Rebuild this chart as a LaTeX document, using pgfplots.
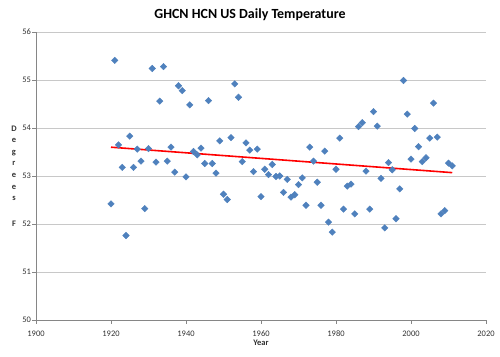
\documentclass[border=0pt]{standalone}
\usepackage{fontspec}
\setmainfont{Carlito}
\usepackage{pgfplots}
\pgfplotsset{compat=1.18}
\definecolor{ptblue}{HTML}{4F81BD}
\definecolor{gridgray}{RGB}{200,200,200}
\definecolor{axgray}{RGB}{134,134,134}
\definecolor{txt}{RGB}{50,50,50}
\pgfplotstableread{
year temp
1920 52.42
1921 55.41
1922 53.65
1923 53.18
1924 51.76
1925 53.83
1926 53.18
1927 53.56
1928 53.31
1929 52.32
1930 53.57
1931 55.24
1932 53.29
1933 54.56
1934 55.28
1935 53.31
1936 53.60
1937 53.08
1938 54.88
1939 54.78
1940 52.98
1941 54.48
1942 53.51
1943 53.44
1944 53.58
1945 53.26
1946 54.57
1947 53.26
1948 53.06
1949 53.73
1950 52.62
1951 52.51
1952 53.80
1953 54.92
1954 54.64
1955 53.30
1956 53.69
1957 53.54
1958 53.09
1959 53.56
1960 52.57
1961 53.14
1962 53.03
1963 53.24
1964 52.99
1965 53.00
1966 52.66
1967 52.93
1968 52.56
1969 52.61
1970 52.82
1971 52.96
1972 52.39
1973 53.60
1974 53.31
1975 52.87
1976 52.39
1977 53.52
1978 52.04
1979 51.83
1980 53.14
1981 53.79
1982 52.31
1983 52.79
1984 52.83
1985 52.21
1986 54.03
1987 54.11
1988 53.10
1989 52.31
1990 54.34
1991 54.04
1992 52.95
1993 51.92
1994 53.28
1995 53.13
1996 52.11
1997 52.73
1998 54.99
1999 54.29
2000 53.35
2001 53.99
2002 53.61
2003 53.30
2004 53.38
2005 53.79
2006 54.52
2007 53.81
2008 52.21
2009 52.28
2010 53.27
2011 53.21
}\temps
\begin{document}
\begin{tikzpicture}
\begin{axis}[
  name=ax,
  scale only axis, width=450bp, height=288bp,
  xmin=1900, xmax=2020, ymin=50, ymax=56,
  xtick={1900,1920,...,2020}, ytick={50,51,...,56},
  axis x line=bottom, axis y line=left,
  axis line style={-, axgray, line width=0.8bp},
  ymajorgrids, grid style={gridgray, line width=0.8bp},
  tick align=outside, major tick length=4bp,
  tick style={axgray, line width=0.8bp},
  /pgf/number format/assume math mode=true,
  /pgf/number format/1000 sep={},
  ticklabel style={font=\fontsize{8.5}{10}\selectfont, text=txt},
  xticklabel style={yshift=-3bp},
  yticklabel style={xshift=2.5bp},
  title={GHCN HCN US Daily Temperature},
  title style={font=\bfseries\fontsize{14}{16}\selectfont, at={(0.4756,1)}, anchor=center, yshift=11bp},
  xlabel={Year},
  xlabel style={font=\bfseries\fontsize{8.5}{10}\selectfont, text=txt, at={(rel axis cs:0.5,0)}, anchor=center, yshift=-23bp},
  ylabel={D\\e\\g\\r\\e\\e\\s\\[14bp]F},
  ylabel style={rotate=-90, align=center, font=\bfseries\fontsize{8.5}{11.6}\selectfont, text=txt, at={(rel axis cs:0,0.5)}, anchor=center, xshift=-22bp},
]
\addplot[only marks, mark=square*, mark size=2.3bp, mark options={rotate=45, fill=ptblue, draw=ptblue}] table[x=year, y=temp] {\temps};
\addplot[red, line width=1.6bp] coordinates {(1920,53.60) (2011,53.07)};
\end{axis}
\pgfresetboundingbox
\path[use as bounding box] ([xshift=-36bp,yshift=-37bp]ax.south west) rectangle ([xshift=14bp,yshift=32bp]ax.north east);
\end{tikzpicture}
\end{document}
